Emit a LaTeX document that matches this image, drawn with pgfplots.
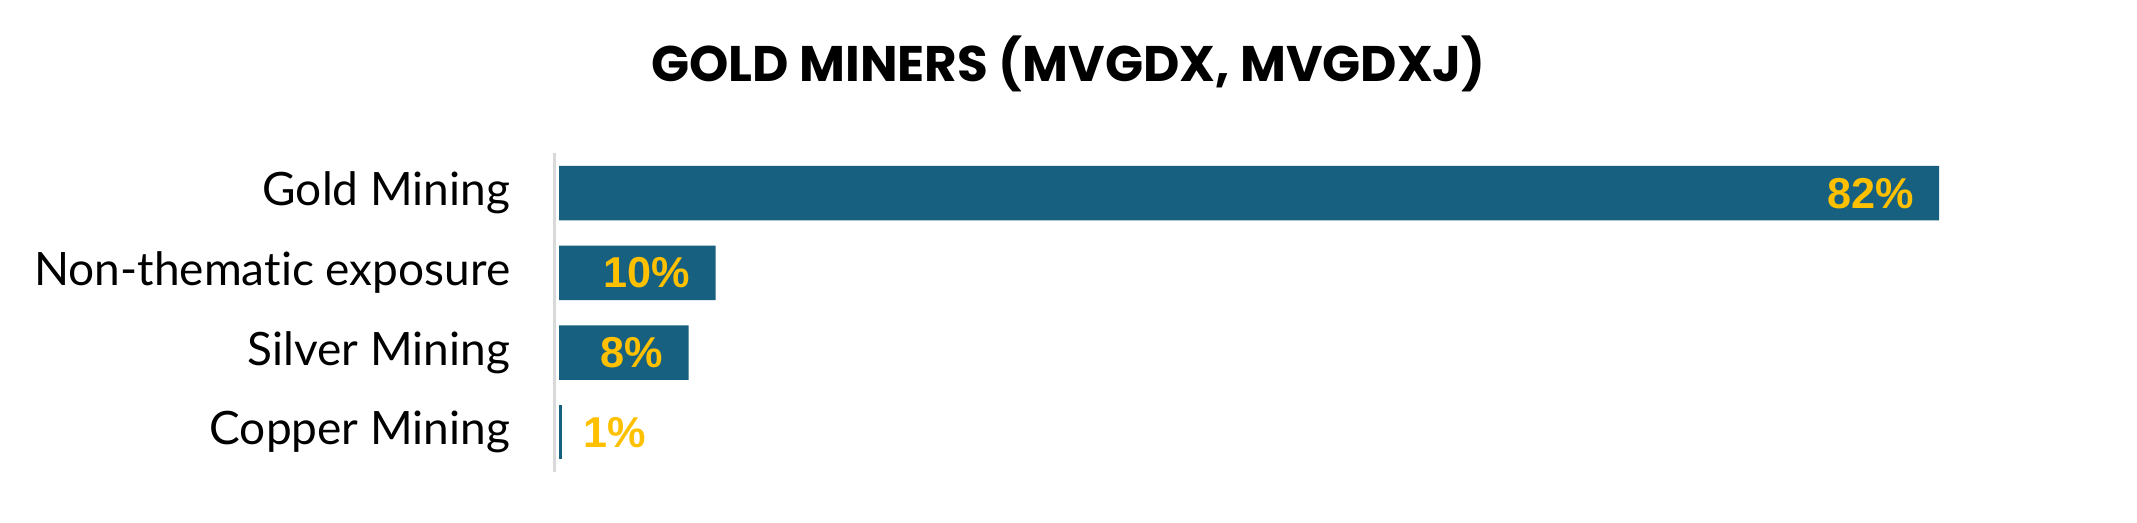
\documentclass[border=0pt]{standalone}
\usepackage{fontspec}
\setmainfont{Lato}[Ligatures=NoCommon]
\newfontfamily\titlefont{Poppins}
\newfontfamily\numfont{Liberation Sans}
\usepackage{pgfplots}
\pgfplotsset{compat=1.18}
\definecolor{barblue}{HTML}{17607F}
\definecolor{labgold}{HTML}{FFC000}
\definecolor{axgray}{HTML}{D9D9D9}

\begin{document}
\begin{tikzpicture}
\useasboundingbox (0,0) rectangle (1068.5pt,261.5pt);
\node[anchor=base, inner sep=0pt, font=\titlefont\bfseries\fontsize{25}{29}\selectfont]
  at (534.25pt,220.5pt) {GOLD MINERS (MVGDX, MVGDXJ)};
\begin{axis}[
    at={(277.25pt,25.5pt)}, anchor=south west,
    scale only axis,
    width=759.6pt, height=159.3pt,
    xbar, bar width=27.25pt, bar shift=0pt,
    xmin=-0.27, xmax=90,
    ymin=-0.5, ymax=3.5, y dir=reverse,
    ytick={0,1,2,3},
    yticklabels={Gold Mining, Non-thematic exposure, Silver Mining, Copper Mining},
    yticklabel style={font=\fontsize{23}{27}\selectfont, anchor=east, inner sep=0pt, xshift=-22pt},
    major tick length=0pt,
    hide x axis,
    axis y line*=left,
    y axis line style={draw=axgray, line width=1.5pt},
    point meta=explicit symbolic,
    nodes near coords,
    every node near coord/.append style={font=\numfont\bfseries\fontsize{21.6}{24}\selectfont,
        text=labgold, inner sep=0pt},
    clip=false,
]
% bars with the label inside the end
\addplot[fill=barblue, draw=none,
    every node near coord/.append style={anchor=east, xshift=-12.5pt}]
    coordinates {(82,0) [82\%] (9.3,1) [10\%] (7.7,2) [8\%]};
% thin bar, label outside
\addplot[fill=barblue, draw=none,
    every node near coord/.append style={anchor=west, xshift=10.5pt}]
    coordinates {(0.2,3) [1\%]};
\end{axis}
\end{tikzpicture}
\end{document}
